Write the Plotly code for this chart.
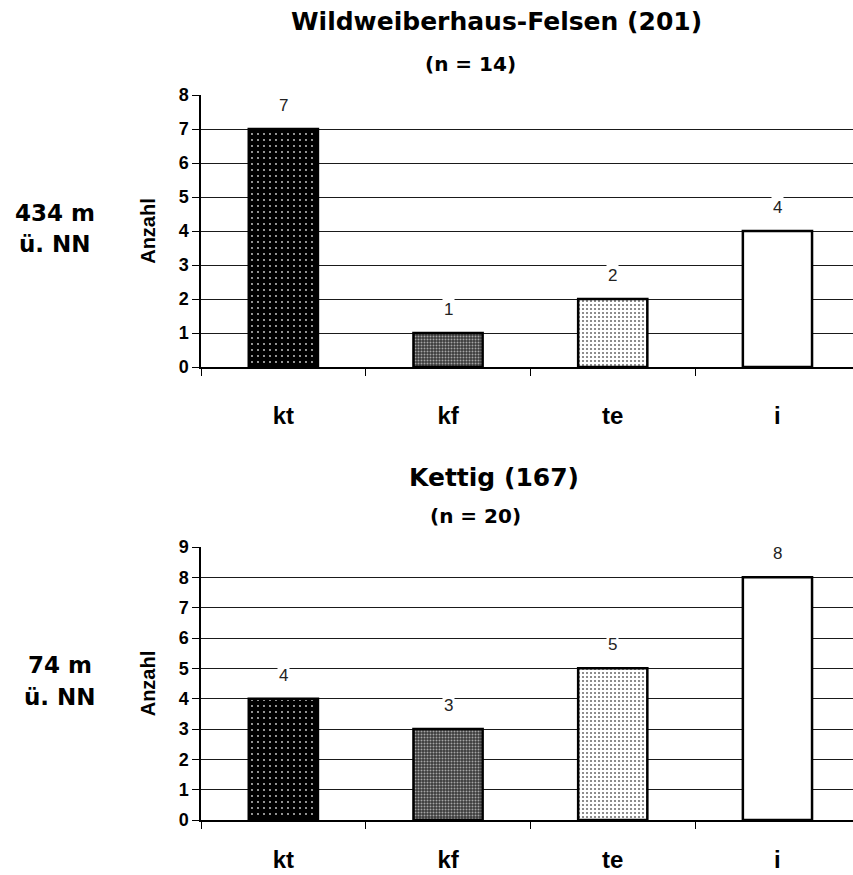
import plotly.graph_objects as go

# Data
categories = ["kt", "kf", "te", "i"]
wild_counts = [7, 1, 2, 4]
kettig_counts = [4, 3, 5, 8]
wild_ticks = list(range(0, 9))
kettig_ticks = list(range(0, 10))

wild_title = "Wildweiberhaus-Felsen (201)"
wild_n = "(n = 14)"
wild_alt = ["434 m", "ü. NN"]
kettig_title = "Kettig (167)"
kettig_n = "(n = 20)"
kettig_alt = ["74 m", "ü. NN"]

# Fill pattern per category
pat_shape = [".", ".", ".", ""]
pat_bg = ["#000000", "#3a3a3a", "#ffffff", "#ffffff"]
pat_fg = ["#d8d8d8", "#a5a5a5", "#707070", "#ffffff"]
pat_size = [6, 3, 4, 4]
pat_solid = [0.07, 0.35, 0.22, 0.1]

W, H = 853, 875
HEAVY = "DejaVu Sans, Liberation Sans, Arial, sans-serif"
SANS = "Liberation Sans, Arial, sans-serif"

xpos = list(range(len(categories)))

fig = go.Figure()


def add_chart(counts, xa, ya):
    for i, (xi, v) in enumerate(zip(xpos, counts)):
        pattern = dict(shape=pat_shape[i], bgcolor=pat_bg[i], fgcolor=pat_fg[i],
                       size=pat_size[i], solidity=pat_solid[i], fillmode="replace")
        fig.add_trace(go.Bar(
            x=[xi], y=[v], xaxis=xa, yaxis=ya, width=0.42,
            marker=dict(color=pat_bg[i], line=dict(color="#000000", width=2.5),
                        pattern=pattern),
            showlegend=False, hoverinfo="skip",
        ))


add_chart(wild_counts, "x", "y")
add_chart(kettig_counts, "x2", "y2")

annotations = []
for counts, xr, yr in [(wild_counts, "x", "y"), (kettig_counts, "x2", "y2")]:
    for xi, v in zip(xpos, counts):
        annotations.append(dict(
            x=xi, y=v, xref=xr, yref=yr, text=str(v), showarrow=False,
            yanchor="bottom", yshift=12, bgcolor="#ffffff", borderpad=1,
            font=dict(family=SANS, size=17, color="#222222"),
        ))


def px_x(p):
    return p / W


def px_y(p):
    return (H - p) / H


def text_ann(txt, x, y, size, family=HEAVY):
    annotations.append(dict(
        text=f"<b>{txt}</b>", x=px_x(x), y=px_y(y), xref="paper", yref="paper",
        showarrow=False, xanchor="center", yanchor="middle",
        font=dict(family=family, size=size, color="#000000"),
    ))


text_ann(wild_title, 496, 21, 25)
text_ann(wild_n, 470, 64, 20)
text_ann(wild_alt[0], 55, 213, 23)
text_ann(wild_alt[1], 55, 244, 23)
text_ann(kettig_title, 494, 477, 25)
text_ann(kettig_n, 476, 516, 20)
text_ann(kettig_alt[0], 60, 665, 23)
text_ann(kettig_alt[1], 60, 697, 23)

x_left = 201
cat_step = 164.7
x_range = [-0.5, -0.5 + (W - x_left) / cat_step]


def xaxis_cfg(anchor, label_gap):
    return dict(
        domain=[x_left / W, 1], range=x_range, anchor=anchor, automargin=False,
        tickvals=xpos, ticktext=[f"<b>{c}</b>" for c in categories],
        ticks="outside", ticklen=label_gap, tickcolor="rgba(0,0,0,0)",
        tickfont=dict(family=SANS, size=24, color="#000000"),
        showline=True, linecolor="#000000", linewidth=1.5,
        showgrid=False, zeroline=False, fixedrange=True,
        minor=dict(tickvals=[-0.5, 0.5, 1.5, 2.5], ticks="outside",
                   ticklen=7, tickcolor="#000000", tickwidth=1, showgrid=False),
    )


def yaxis_cfg(anchor, top, bottom, ticks):
    return dict(
        domain=[px_y(bottom), px_y(top)], range=[0, ticks[-1]], anchor=anchor,
        automargin=False,
        tickvals=ticks, ticktext=[f"<b>{t}</b>" for t in ticks],
        ticks="outside", ticklen=7, tickcolor="#000000", tickwidth=1,
        tickfont=dict(family=SANS, size=18, color="#000000"),
        showline=True, linecolor="#000000", linewidth=1.5,
        showgrid=True, gridcolor="#1a1a1a", gridwidth=1.3,
        zeroline=False, fixedrange=True,
        title=dict(text="<b>Anzahl</b>", standoff=18,
                   font=dict(family=SANS, size=20, color="#000000")),
    )


fig.update_layout(
    width=W, height=H,
    margin=dict(l=0, r=0, t=0, b=0),
    paper_bgcolor="#ffffff", plot_bgcolor="#ffffff",
    xaxis=xaxis_cfg("y", 26),
    yaxis=yaxis_cfg("x", 95, 367, wild_ticks),
    xaxis2=xaxis_cfg("y2", 17),
    yaxis2=yaxis_cfg("x2", 547, 820, kettig_ticks),
    annotations=annotations,
    barmode="overlay",
)

fig.write_html("out.html")
